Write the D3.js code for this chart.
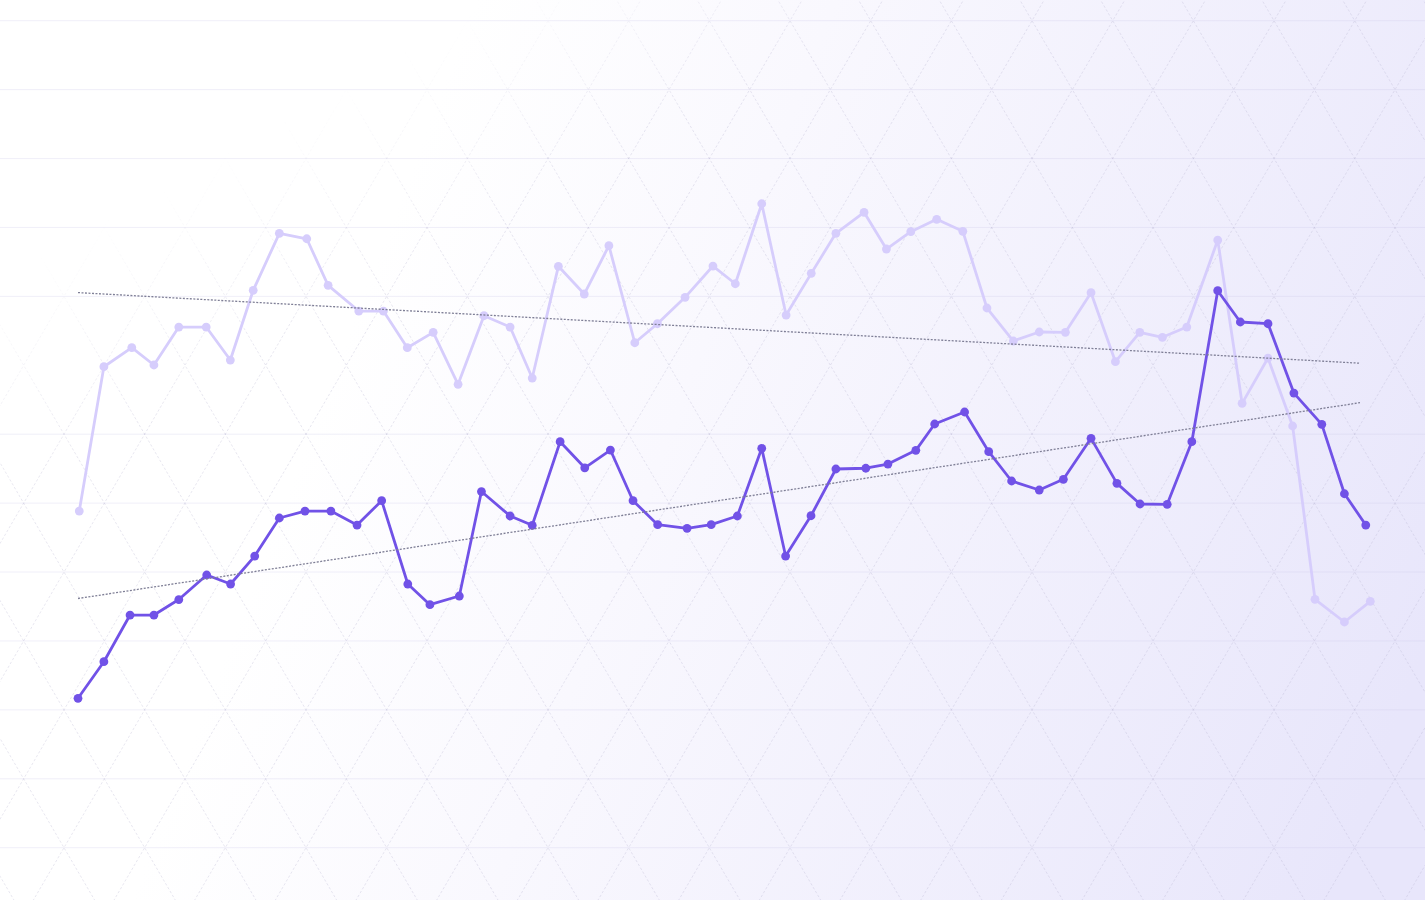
<!DOCTYPE html>
<html>
<head>
<meta charset="utf-8">
<script src="https://cdn.jsdelivr.net/npm/d3@7"></script>
<style>
  html, body { margin: 0; padding: 0; background: #ffffff; overflow: hidden; }
  svg { display: block; }
</style>
</head>
<body>
<svg id="chart" width="1425" height="900"></svg>
<script>
// ---- data ----
const gridTicks = [0, 10, 20, 30, 40, 50, 60, 80, 90, 100, 110, 120];

const darkX = [0, 1.03, 2.07, 3.02, 4.01, 5.12, 6.07, 7.03, 8.01, 9.03, 10.06, 11.10, 12.08, 13.12, 14.00, 15.17, 16.05, 17.19, 18.07, 19.18, 20.16, 21.18, 22.08, 23.06, 24.23, 25.19, 26.23, 27.20, 28.15, 29.16, 30.15, 31.34, 32.22, 33.33, 34.08, 35.27, 36.23, 37.14, 38.24, 39.20, 40.30, 41.33, 42.25, 43.33, 44.31, 45.34, 46.24, 47.34, 48.37, 49.48, 50.38, 51.23];
const darkValues = [21.68, 26.99, 33.76, 33.76, 36.01, 39.57, 38.26, 42.32, 47.84, 48.85, 48.85, 46.82, 50.35, 38.26, 35.26, 36.52, 51.68, 48.13, 46.78, 58.91, 55.12, 57.70, 50.35, 46.87, 46.34, 46.87, 48.13, 57.95, 42.32, 48.17, 54.95, 55.06, 55.67, 57.66, 61.48, 63.22, 57.46, 53.21, 51.90, 53.45, 59.40, 52.87, 49.87, 49.83, 58.91, 80.82, 76.28, 76.03, 65.97, 61.43, 51.36, 46.82];

const lightX = [0.05, 1.03, 2.14, 3.02, 4.01, 5.10, 6.06, 6.97, 8.01, 9.10, 9.95, 11.17, 12.15, 13.10, 14.13, 15.12, 16.15, 17.19, 18.07, 19.11, 20.14, 21.12, 22.15, 23.05, 24.15, 25.26, 26.15, 27.20, 28.17, 29.17, 30.15, 31.27, 32.16, 33.13, 34.16, 35.20, 36.16, 37.21, 38.24, 39.28, 40.30, 41.27, 42.24, 43.14, 44.11, 45.34, 46.31, 47.34, 48.32, 49.21, 50.38, 51.41];
const lightValues = [48.85, 69.79, 72.55, 70.04, 75.55, 75.55, 70.76, 80.88, 89.15, 88.36, 81.60, 77.87, 77.87, 72.55, 74.78, 67.24, 77.19, 75.55, 68.15, 84.36, 80.34, 87.35, 73.27, 76.03, 79.86, 84.40, 81.83, 93.44, 77.29, 83.34, 89.15, 92.20, 86.87, 89.38, 91.18, 89.44, 78.31, 73.52, 74.83, 74.78, 80.53, 70.52, 74.78, 74.06, 75.55, 88.17, 64.48, 71.05, 61.19, 36.04, 32.75, 35.75];

// ---- setup ----
const W = 1425, H = 900;
const svg = d3.select('#chart');
const x = d3.scaleLinear().domain([0, 51]).range([78, 1360]);
const y = d3.scaleLinear().domain([0, 120]).range([847.7, 20.7]);

const defs = svg.append('defs');
const bg = defs.append('linearGradient').attr('id', 'bg')
  .attr('gradientUnits', 'userSpaceOnUse')
  .attr('x1', 380).attr('y1', 250).attr('x2', 1425).attr('y2', 650);
bg.append('stop').attr('offset', 0).attr('stop-color', '#ffffff');
bg.append('stop').attr('offset', 0.3).attr('stop-color', '#f9f8fe');
bg.append('stop').attr('offset', 1).attr('stop-color', '#e8e6fb');

const mg = defs.append('linearGradient').attr('id', 'mg')
  .attr('gradientUnits', 'userSpaceOnUse')
  .attr('x1', 0).attr('y1', 0).attr('x2', 300).attr('y2', 530);
mg.append('stop').attr('offset', 0.40).attr('stop-color', '#000');
mg.append('stop').attr('offset', 0.72).attr('stop-color', '#fff');
defs.append('mask').attr('id', 'fade')
  .append('rect').attr('width', W).attr('height', H).attr('fill', 'url(#mg)');

svg.append('rect').attr('width', W).attr('height', H).attr('fill', 'url(#bg)');

// horizontal grid
svg.append('g').selectAll('line').data(gridTicks).join('line')
  .attr('x1', 0).attr('x2', W)
  .attr('y1', d => y(d)).attr('y2', d => y(d))
  .attr('stroke', '#c8c4e6').attr('stroke-opacity', 0.28).attr('stroke-width', 1);

// triangular lattice (decorative)
const rowH = y(0) - y(10);
const colW = 80.67;
const x0 = 1112.7, yTop = y(120);
const k = (colW / 2) / rowH;
const tri = svg.append('g').attr('mask', 'url(#fade)')
  .attr('stroke', '#b4b1cc').attr('stroke-opacity', 0.38)
  .attr('stroke-width', 0.8).attr('stroke-dasharray', '2.5,2').attr('fill', 'none');
d3.range(-25, 26).forEach(n => {
  const X = x0 + n * colW;
  tri.append('line').attr('x1', X + k * (-10 - yTop)).attr('y1', -10)
    .attr('x2', X + k * (910 - yTop)).attr('y2', 910);
  tri.append('line').attr('x1', X - k * (-10 - yTop)).attr('y1', -10)
    .attr('x2', X - k * (910 - yTop)).attr('y2', 910);
});

// ---- series ----
function toPts(xs, vs) { return xs.map((d, i) => ({ x: d, v: vs[i] })); }
const dark = toPts(darkX, darkValues);
const light = toPts(lightX, lightValues);

function regression(pts) {
  const mx = d3.mean(pts, d => d.x), my = d3.mean(pts, d => d.v);
  const sxy = d3.sum(pts, d => (d.x - mx) * (d.v - my));
  const sxx = d3.sum(pts, d => (d.x - mx) * (d.x - mx));
  const b = sxy / sxx, a = my - b * mx;
  return t => a + b * t;
}

const line = d3.line().x(d => x(d.x)).y(d => y(d.v));

function drawSeries(pts, color) {
  const g = svg.append('g');
  g.append('path').datum(pts).attr('d', line)
    .attr('fill', 'none').attr('stroke', color).attr('stroke-width', 2.8)
    .attr('stroke-linejoin', 'round').attr('stroke-linecap', 'round');
  g.selectAll('circle').data(pts).join('circle')
    .attr('cx', d => x(d.x)).attr('cy', d => y(d.v)).attr('r', 4.4)
    .attr('fill', color);
}

function drawTrend(pts) {
  const f = regression(pts);
  svg.append('line')
    .attr('x1', x(0)).attr('y1', y(f(0)))
    .attr('x2', x(51)).attr('y2', y(f(51)))
    .attr('stroke', '#7f7f96').attr('stroke-width', 1.3)
    .attr('stroke-dasharray', '2,1.5');
}

drawSeries(light, '#d6cdfc');
drawSeries(dark, '#7152e7');
drawTrend(light);
drawTrend(dark);
</script>
</body>
</html>
